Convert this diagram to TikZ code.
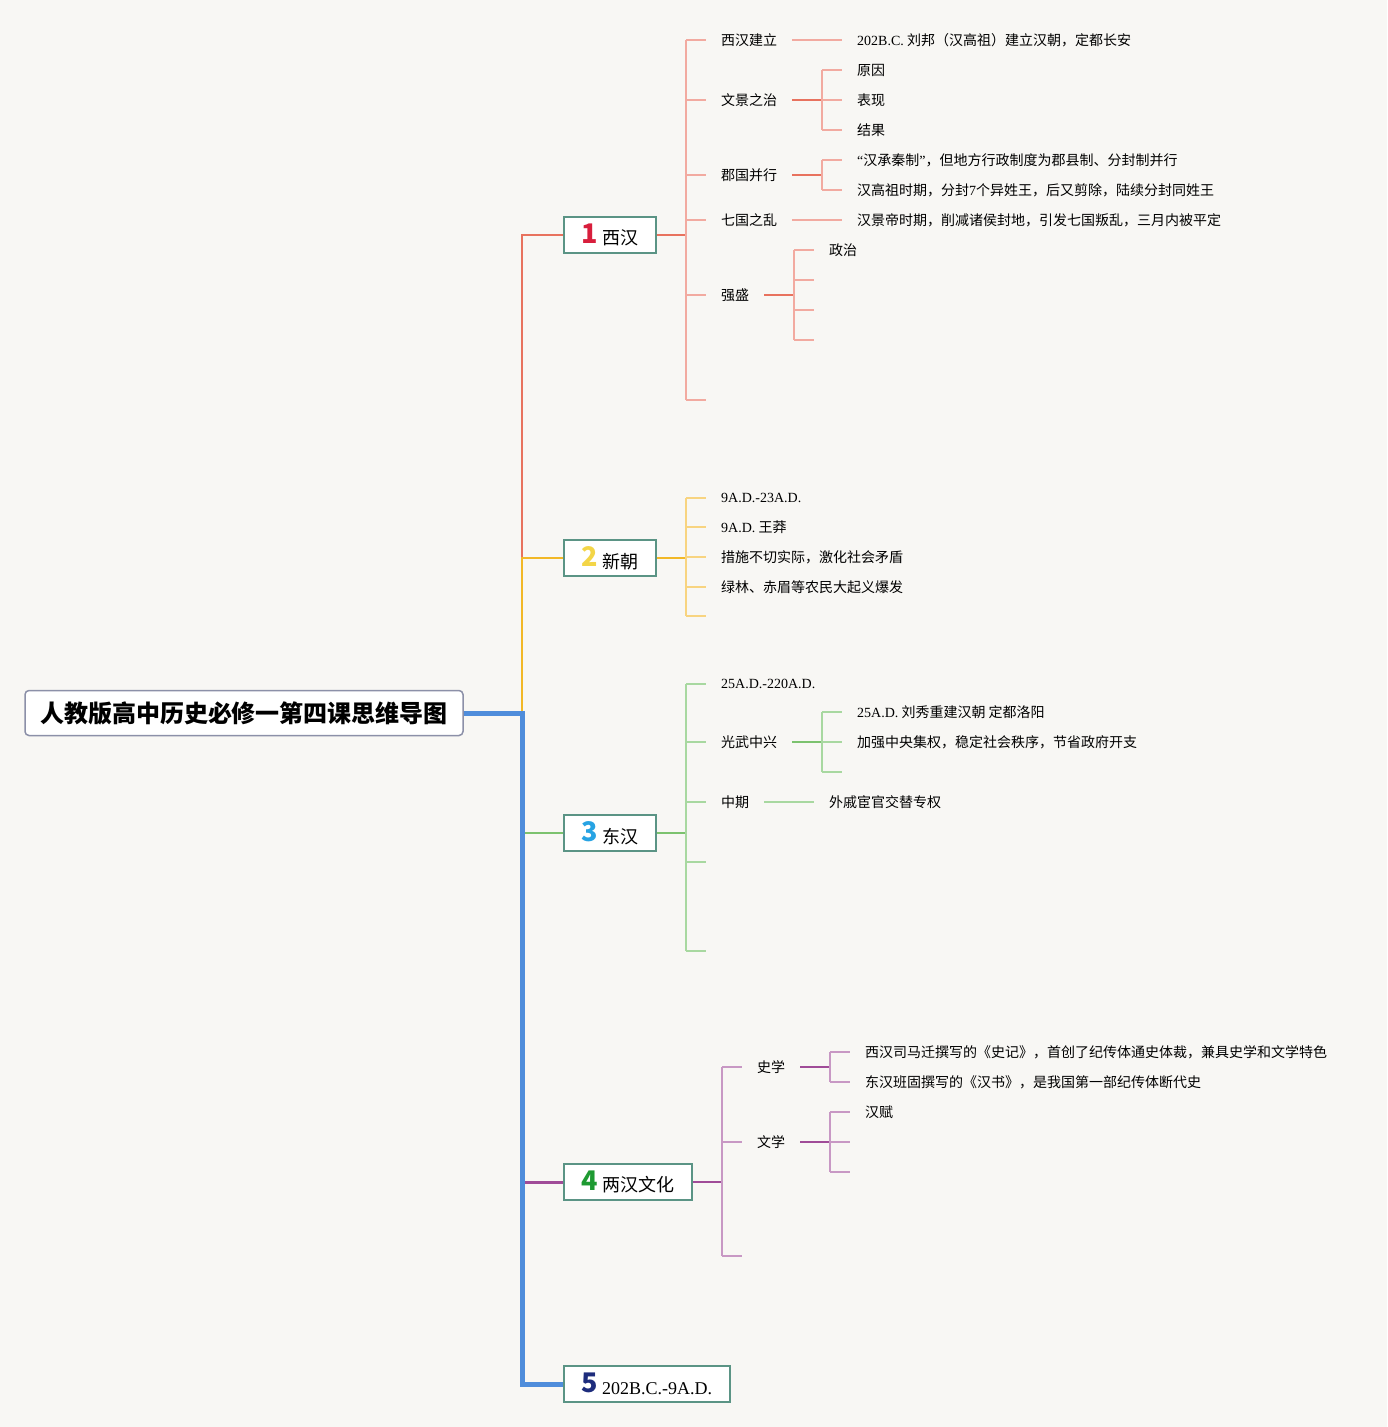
\documentclass[tikz,border=0pt]{standalone}
\usepackage{fontspec}
\setmainfont{Noto Sans CJK SC}
\newfontfamily\lat{Liberation Serif}

\definecolor{bgc}{HTML}{F8F7F4}
\definecolor{rootc}{HTML}{8C90A8}
\definecolor{boxc}{HTML}{5B9485}
\definecolor{trunkc}{HTML}{4F8DDB}
\definecolor{reddk}{HTML}{E8725E}
\definecolor{redlt}{HTML}{F2AAA0}
\definecolor{yeldk}{HTML}{F2B826}
\definecolor{yellt}{HTML}{F8D480}
\definecolor{grndk}{HTML}{7CC26E}
\definecolor{grnlt}{HTML}{A8D8A0}
\definecolor{purdk}{HTML}{A04C98}
\definecolor{purlt}{HTML}{C898C4}
\definecolor{n1}{HTML}{D81E3C}
\definecolor{n2}{HTML}{F3D547}
\definecolor{n3}{HTML}{27A3E3}
\definecolor{n4}{HTML}{1E9A32}
\definecolor{n5}{HTML}{1D2C7C}

\newcommand\topicnum[2]{\raisebox{1.5pt}{\color{#1}\fontsize{27}{27}\selectfont\bfseries #2}}

\tikzset{
  root/.style={draw=rootc, line width=1.5pt, rounded corners=4pt, fill=white,
    minimum height=45pt, inner xsep=15pt, font=\fontsize{24}{24}\selectfont\bfseries},
  topic/.style={draw=boxc, line width=1.5pt, fill=white, minimum height=36pt,
    inner xsep=18pt, anchor=west, font=\fontsize{18}{18}\selectfont},
  item/.style={anchor=west, inner xsep=15pt, inner ysep=2pt, font=\fontsize{14}{16}\selectfont},
  dk/.style={line width=1.8pt},
  lt/.style={line width=1.3pt}
}

\begin{document}
\begin{tikzpicture}[x=1pt, y=-1pt]
\useasboundingbox[fill=bgc] (0,0) rectangle (1387,1427);

\node[root] (root) at (244,713) {人教版高中历史必修一第四课思维导图};
\coordinate (hub) at (522,713);

% topics
\node[topic] (xh) at (563,235) {\topicnum{n1}{1} 西汉};
\node[topic] (xc) at (563,558) {\topicnum{n2}{2} 新朝};
\node[topic] (dh) at (563,833) {\topicnum{n3}{3} 东汉};
\node[topic] (wh) at (563,1182) {\topicnum{n4}{4} 两汉文化};
\node[topic] (sj) at (563,1384) {\topicnum{n5}{5} {\lat 202B.C.-9A.D.}};

\draw[reddk, dk] (hub) |- (xh.west);
\draw[yeldk, dk] (hub) |- (xc.west);
\draw[grndk, dk] (hub) |- (dh.west);
\draw[purdk, line width=3pt] (hub) |- (wh.west);
\draw[trunkc, line width=5pt] (root.east) -- (hub) |- (sj.west);

% 1 xihan
\begin{scope}[every node/.style={item}]
\coordinate (s1) at (686,235);
\node (xh1) at (706,40) {西汉建立};
\node (xh2) at (706,100) {文景之治};
\node (xh3) at (706,175) {郡国并行};
\node (xh4) at (706,220) {七国之乱};
\node (xh5) at (706,295) {强盛};
\coordinate (xh6) at (706,400);
\draw[reddk, dk] (xh.east) -- (s1);
\draw[redlt, lt] (xh1.west -| s1) -- (xh6 -| s1);
\foreach \n in {xh1,xh2,xh3,xh4,xh5} \draw[redlt, lt] (\n.west -| s1) -- (\n.west);
\draw[redlt, lt] (xh6 -| s1) -- (xh6);

\node (xh1a) at (842,40) {{\lat 202B.C.} 刘邦（汉高祖）建立汉朝，定都长安};
\draw[redlt, lt] (xh1.east) -- (xh1a.west);

\coordinate (s2) at (822,100);
\node (wj1) at (842,70) {原因};
\node (wj2) at (842,100) {表现};
\node (wj3) at (842,130) {结果};
\draw[reddk, dk] (xh2.east) -- (s2);
\draw[redlt, lt] (wj1.west -| s2) -- (wj3.west -| s2);
\foreach \n in {wj1,wj2,wj3} \draw[redlt, lt] (\n.west -| s2) -- (\n.west);

\coordinate (s3) at (822,175);
\node (jg1) at (842,160) {{\lat “}汉承秦制{\lat ”}，但地方行政制度为郡县制、分封制并行};
\node (jg2) at (842,190) {汉高祖时期，分封{\lat 7}个异姓王，后又剪除，陆续分封同姓王};
\draw[reddk, dk] (xh3.east) -- (s3);
\draw[redlt, lt] (jg1.west -| s3) -- (jg2.west -| s3);
\foreach \n in {jg1,jg2} \draw[redlt, lt] (\n.west -| s3) -- (\n.west);

\node (xh4a) at (842,220) {汉景帝时期，削减诸侯封地，引发七国叛乱，三月内被平定};
\draw[redlt, lt] (xh4.east) -- (xh4a.west);

\coordinate (s4) at (794,295);
\node (qs1) at (814,250) {政治};
\coordinate (qs2) at (814,280);
\coordinate (qs3) at (814,310);
\coordinate (qs4) at (814,340);
\draw[reddk, dk] (xh5.east) -- (s4);
\draw[redlt, lt] (qs1.west -| s4) -- (qs4 -| s4);
\draw[redlt, lt] (qs1.west -| s4) -- (qs1.west);
\foreach \n in {qs2,qs3,qs4} \draw[redlt, lt] (\n -| s4) -- (\n);
\end{scope}

% 2 xinchao
\begin{scope}[every node/.style={item}]
\coordinate (s5) at (686,558);
\node (xc1) at (706,498) {{\lat 9A.D.-23A.D.}};
\node (xc2) at (706,527) {{\lat 9A.D.} 王莽};
\node (xc3) at (706,557) {措施不切实际，激化社会矛盾};
\node (xc4) at (706,587) {绿林、赤眉等农民大起义爆发};
\coordinate (xc5) at (706,616);
\draw[yeldk, dk] (xc.east) -- (s5);
\draw[yellt, lt] (xc1.west -| s5) -- (xc5 -| s5);
\foreach \n in {xc1,xc2,xc3,xc4} \draw[yellt, lt] (\n.west -| s5) -- (\n.west);
\draw[yellt, lt] (xc5 -| s5) -- (xc5);
\end{scope}

% 3 donghan
\begin{scope}[every node/.style={item}]
\coordinate (s6) at (686,833);
\node (dh1) at (706,684) {{\lat 25A.D.-220A.D.}};
\node (dh2) at (706,742) {光武中兴};
\node (dh3) at (706,802) {中期};
\coordinate (dh4) at (706,862);
\coordinate (dh5) at (706,951);
\draw[grndk, dk] (dh.east) -- (s6);
\draw[grnlt, lt] (dh1.west -| s6) -- (dh5 -| s6);
\foreach \n in {dh1,dh2,dh3} \draw[grnlt, lt] (\n.west -| s6) -- (\n.west);
\foreach \n in {dh4,dh5} \draw[grnlt, lt] (\n -| s6) -- (\n);

\coordinate (s7) at (822,742);
\node (gw1) at (842,712) {{\lat 25A.D.} 刘秀重建汉朝 定都洛阳};
\node (gw2) at (842,742) {加强中央集权，稳定社会秩序，节省政府开支};
\coordinate (gw3) at (842,772);
\draw[grndk, dk] (dh2.east) -- (s7);
\draw[grnlt, lt] (gw1.west -| s7) -- (gw3 -| s7);
\foreach \n in {gw1,gw2} \draw[grnlt, lt] (\n.west -| s7) -- (\n.west);
\draw[grnlt, lt] (gw3 -| s7) -- (gw3);

\node (dh3a) at (814,802) {外戚宦官交替专权};
\draw[grnlt, lt] (dh3.east) -- (dh3a.west);
\end{scope}

% 4 culture
\begin{scope}[every node/.style={item}]
\coordinate (s8) at (722,1182);
\node (wh1) at (742,1067) {史学};
\node (wh2) at (742,1142) {文学};
\coordinate (wh3) at (742,1256);
\draw[purdk, dk] (wh.east) -- (s8);
\draw[purlt, lt] (wh1.west -| s8) -- (wh3 -| s8);
\foreach \n in {wh1,wh2} \draw[purlt, lt] (\n.west -| s8) -- (\n.west);
\draw[purlt, lt] (wh3 -| s8) -- (wh3);

\coordinate (s9) at (830,1067);
\node (sx1) at (850,1052) {西汉司马迁撰写的《史记》，首创了纪传体通史体裁，兼具史学和文学特色};
\node (sx2) at (850,1082) {东汉班固撰写的《汉书》，是我国第一部纪传体断代史};
\draw[purdk, dk] (wh1.east) -- (s9);
\draw[purlt, lt] (sx1.west -| s9) -- (sx2.west -| s9);
\foreach \n in {sx1,sx2} \draw[purlt, lt] (\n.west -| s9) -- (\n.west);

\coordinate (s10) at (830,1142);
\node (wx1) at (850,1112) {汉赋};
\coordinate (wx2) at (850,1142);
\coordinate (wx3) at (850,1172);
\draw[purdk, dk] (wh2.east) -- (s10);
\draw[purlt, lt] (wx1.west -| s10) -- (wx3 -| s10);
\draw[purlt, lt] (wx1.west -| s10) -- (wx1.west);
\foreach \n in {wx2,wx3} \draw[purlt, lt] (\n -| s10) -- (\n);
\end{scope}

\end{tikzpicture}
\end{document}
